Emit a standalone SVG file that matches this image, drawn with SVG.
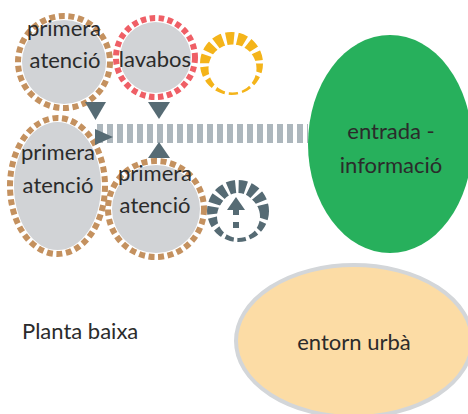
<svg xmlns="http://www.w3.org/2000/svg" width="468" height="414" viewBox="0 0 468 414">
<style>
.t{font-family:Lato,"Open Sans","Liberation Sans",sans-serif;font-size:22px;fill:#2b2b2b;text-anchor:middle}
.fill{fill:#d1d3d6}
.brown{fill:none;stroke:#c4915f;stroke-width:6;stroke-dasharray:6 3.6}
.red{fill:none;stroke:#ef5f66;stroke-width:6;stroke-dasharray:5.5 3.5}
.slate{fill:#566b74}
</style>
<defs>
<clipPath id="cy"><path clip-rule="evenodd" d="M231.5,32a31.5,31.5 0 1,0 0.01,0ZM232.5,44.5a24,24 0 1,1 -0.01,0Z"/></clipPath>
<clipPath id="cd"><path clip-rule="evenodd" d="M238,180a31,31 0 1,0 0.01,0ZM238.5,195a21.5,21.5 0 1,1 -0.01,0Z"/></clipPath>
</defs>
<g id="connectors">
<line x1="97" y1="133.5" x2="308" y2="133.5" stroke="#adb7bd" stroke-width="19" stroke-dasharray="6 4"/>
</g>
<g id="node-primera1">
<circle class="fill" cx="64" cy="62" r="42"/>
<circle class="brown" cx="64" cy="62" r="46"/>
<text class="t" x="64" y="36">primera</text>
<text class="t" x="65" y="68">atenció</text>
</g>
<g id="node-lavabos">
<circle class="fill" cx="155.5" cy="57.5" r="35.5"/>
<circle class="red" cx="155.5" cy="57.5" r="39.5"/>
<text class="t" x="155" y="67">lavabos</text>
</g>
<g id="node-yellow">
<circle cx="231.5" cy="63.5" r="25.5" fill="none" stroke="#f4b41a" stroke-width="14" stroke-dasharray="8 3.4" clip-path="url(#cy)"/>
</g>
<g id="node-primera3">
<ellipse class="fill" cx="57.5" cy="186" rx="43.5" ry="64"/>
<ellipse class="brown" cx="57.5" cy="186" rx="47.5" ry="68"/>
<text class="t" x="58" y="160">primera</text>
<text class="t" x="58" y="193">atenció</text>
</g>
<g id="node-primera4">
<circle class="fill" cx="156" cy="209" r="44"/>
<circle class="brown" cx="156" cy="209" r="48"/>
<text class="t" x="155" y="181">primera</text>
<text class="t" x="155" y="213">atenció</text>
</g>
<g id="arrows">
<polygon class="slate" points="85,102 106,102 95.5,120"/>
<polygon class="slate" points="148,102 170,102 159,119"/>
<polygon class="slate" points="95,129 113,137 95,145"/>
<polygon class="slate" points="148,158 170,158 159,142"/>
</g>
<g id="node-dark">
<circle cx="238" cy="211" r="25" fill="none" stroke="#566b74" stroke-width="14" stroke-dasharray="7.5 3.2" clip-path="url(#cd)"/>
<polygon class="slate" points="227,210 236,197 245,210"/>
<rect class="slate" x="233" y="209" width="6" height="6"/>
<rect class="slate" x="233" y="222" width="6" height="6"/>
</g>
<g id="node-entrada">
<ellipse cx="390" cy="144" rx="82" ry="109" fill="#27b05c"/>
<text class="t" x="391" y="139">entrada -</text>
<text class="t" x="391" y="173">informació</text>
</g>
<g id="node-entorn">
<ellipse cx="354" cy="341" rx="118" ry="76" fill="#fcdca5" stroke="#d3d6d9" stroke-width="4"/>
<text class="t" x="354" y="350">entorn urbà</text>
</g>
<g id="label">
<text class="t" x="22" y="339" style="text-anchor:start">Planta baixa</text>
</g>
</svg>
